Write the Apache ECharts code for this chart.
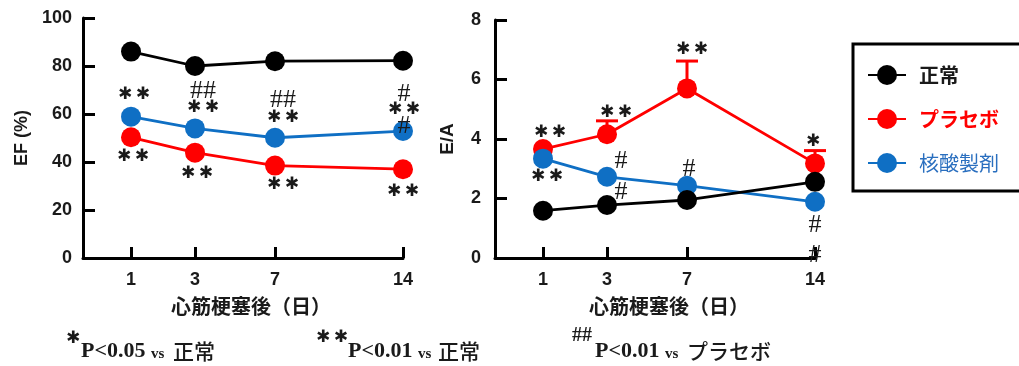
<!DOCTYPE html>
<html><head><meta charset="utf-8">
<script src="https://cdn.jsdelivr.net/npm/echarts@6/dist/echarts.min.js"></script>
<style>html,body{margin:0;padding:0;background:#fff}#c{width:1019px;height:366px}</style>
</head><body><div id="c"></div>
<script>
// ---- data ----
const days = ['1', '3', '7', '14'];
// category slots (blank spacers reproduce the uneven day spacing of the original axis)
const xCategories = ['', '', '', '1', '', '', '', '3', '', '', '', '', '7', '', '', '', '', '', '', '', '14'];
const seriesNames = ['正常', 'プラセボ', '核酸製剤'];

const efNormal  = [86, 80, 82, 82.2];
const efPlacebo = [50.3, 43.9, 38.5, 37];
const efNucleic = [58.9, 54, 50.1, 52.9];

const eaNormal     = [1.59, 1.78, 1.95, 2.56];
const eaPlacebo    = [3.66, 4.16, 5.7, 3.18];
const eaPlaceboErr = [0, 0.45, 0.92, 0.43];
const eaNucleic    = [3.34, 2.73, 2.43, 1.89];

const efSigNucleic = ['**', '##\n**', '##\n**', '#\n**\n#'];
const efSigPlacebo = ['**', '**', '**', '**'];
const eaSigPlacebo = ['**', '**', '**', '*'];
const eaSigNucleic = ['**', '#\n\n#', '#', '#\n#'];

const xAxisName = '心筋梗塞後（日）';

// ---- styling helpers ----
const TXT = '#1a1a1a';
const RED = '#ff0000';
const BLUE = '#0f6fc4';
const BLACK = '#000000';
const STAR = '\u2731';

function makeRich(lh) {
  return {
    s: { fontFamily: 'DejaVu Sans', fontWeight: 'bold', fontSize: 17, color: TXT, lineHeight: lh },
    h: { fontFamily: 'Liberation Serif', fontSize: 26, color: TXT, lineHeight: lh },
    g: { fontSize: 10, lineHeight: lh, color: TXT }
  };
}
function stars(l) { return l.replace(/\*/g, STAR).split('').join('\u2009'); }
function sigText(s) {
  return s.split('\n').map(l => l === '' ? '{g| }' :
    (l.indexOf('*') >= 0 ? '{s|' + stars(l) + '}' : '{h|' + l + '}')).join('\n');
}
// label placement (style): [dx, dy, lineHeight] relative to the marker centre
const efNucleicLab = [[3, -22, 17], [8, -29, 17], [8, -29, 17], [1, -21, 16]];
const efPlaceboLab = [[2, 19, 17], [2, 21, 17], [8, 19, 17], [0, 22, 17]];
const eaPlaceboLab = [[7, -17, 17], [9, -22, 17], [5, -39, 17], [-2, -22, 17]];
const eaNucleicLab = [[4, 18, 17], [14, 0, 15.5], [2, -17, 17], [0, 38, 30]];

function buildData(vals, sig, lab) {
  return days.map((d, i) => {
    const item = { value: [d, vals[i]] };
    if (sig) {
      item.label = {
        show: true, position: 'inside', offset: [lab[i][0], lab[i][1]],
        formatter: sigText(sig[i]), rich: makeRich(lab[i][2]),
        color: TXT, textBorderWidth: 0, align: 'center', verticalAlign: 'middle'
      };
    }
    return item;
  });
}

function lineSeries(name, color, xi, vals, sig, lab) {
  return {
    type: 'line', name, xAxisIndex: xi, yAxisIndex: xi,
    data: buildData(vals, sig, lab),
    symbol: 'circle', symbolSize: 20, showSymbol: true,
    lineStyle: { color, width: 2.8 },
    itemStyle: { color, borderWidth: 0 },
    label: { show: false },
    emphasis: { disabled: true },
    animation: false
  };
}

function xAxisCfg(gi, padLeft) {
  return {
    type: 'category', gridIndex: gi, data: xCategories, boundaryGap: false,
    axisLine: { show: true, lineStyle: { color: BLACK, width: 3 } },
    axisTick: { show: true, inside: true, length: 11, lineStyle: { color: BLACK, width: 3 },
      interval: (i, v) => v !== '' },
    axisLabel: { interval: 0, margin: 13, color: TXT, fontFamily: 'Liberation Sans', fontWeight: 'bold', fontSize: 18 },
    splitLine: { show: false },
    name: xAxisName, nameLocation: 'middle', nameGap: 38,
    nameTextStyle: { fontFamily: 'Noto Sans CJK JP', fontWeight: 'bold', fontSize: 20, color: TXT, padding: [0, 0, 0, padLeft] }
  };
}
function yAxisCfg(gi, max, interval, name, gap, margin, nameSize) {
  return {
    type: 'value', gridIndex: gi, min: 0, max, interval,
    axisLine: { show: true, lineStyle: { color: BLACK, width: 3 } },
    axisTick: { show: true, inside: true, length: 12, lineStyle: { color: BLACK, width: 3 } },
    axisLabel: { margin, color: TXT, fontFamily: 'Liberation Sans', fontWeight: 'bold', fontSize: 18 },
    splitLine: { show: false },
    name, nameLocation: 'middle', nameGap: gap, nameRotate: 90,
    nameTextStyle: { fontFamily: 'Liberation Sans', fontWeight: 'bold', fontSize: nameSize, color: TXT }
  };
}

function footText(x, y, text, font, color, align) {
  return { type: 'text', x, y, silent: true,
    style: { text, font, fill: color || TXT, align: align || 'left', verticalAlign: 'middle' } };
}
const serifB = 'bold 22px "Liberation Serif"';
const serifS = 'bold 15px "Liberation Serif"';
const jpF = '500 21px "Noto Sans CJK JP"';
const starF = 'bold 17px "DejaVu Sans"';

const chart = echarts.init(document.getElementById('c'), null, { renderer: 'canvas' });
chart.setOption({
  animation: false,
  backgroundColor: '#ffffff',
  grid: [
    { left: 83, top: 18, width: 320, height: 240 },
    { left: 495, top: 20, width: 320, height: 238 }
  ],
  xAxis: [xAxisCfg(0, 16), xAxisCfg(1, 28)],
  yAxis: [
    yAxisCfg(0, 100, 20, 'EF (%)', 52, 11, 18),
    yAxisCfg(1, 8, 2, 'E/A', 38, 14, 19)
  ],
  legend: {
    orient: 'vertical', left: 853, top: 44,
    data: [
      { name: seriesNames[0], textStyle: { color: TXT } },
      { name: seriesNames[1], textStyle: { color: RED } },
      { name: seriesNames[2], textStyle: { color: '#2a6fbf', fontWeight: 'normal' } }
    ],
    itemWidth: 38, itemHeight: 25, itemGap: 24,
    padding: [21, 60, 18, 14],
    borderColor: BLACK, borderWidth: 3,
    selectedMode: false,
    textStyle: { fontFamily: 'Noto Sans CJK JP', fontSize: 20, fontWeight: 'bold', padding: [0, 0, 0, 8] }
  },
  series: [
    lineSeries(seriesNames[1], RED, 0, efPlacebo, efSigPlacebo, efPlaceboLab),
    lineSeries(seriesNames[2], BLUE, 0, efNucleic, efSigNucleic, efNucleicLab),
    lineSeries(seriesNames[0], BLACK, 0, efNormal, null, null),
    {
      type: 'custom', name: 'err', xAxisIndex: 1, yAxisIndex: 1,
      data: days.map((d, i) => [d, eaPlacebo[i], eaPlaceboErr[i]]),
      encode: { x: 0, y: 1 },
      renderItem: (params, api) => {
        const e = api.value(2);
        if (!e) return null;
        const x = api.value(0), m = api.value(1);
        const p0 = api.coord([x, m]);
        const p1 = api.coord([x, m + e]);
        const hw = 11;
        return { type: 'group', children: [
          { type: 'line', shape: { x1: p0[0], y1: p0[1], x2: p1[0], y2: p1[1] }, style: { stroke: RED, lineWidth: 3 } },
          { type: 'line', shape: { x1: p1[0] - hw, y1: p1[1], x2: p1[0] + hw, y2: p1[1] }, style: { stroke: RED, lineWidth: 3 } }
        ] };
      },
      silent: true, animation: false
    },
    lineSeries(seriesNames[1], RED, 1, eaPlacebo, eaSigPlacebo, eaPlaceboLab),
    lineSeries(seriesNames[2], BLUE, 1, eaNucleic, eaSigNucleic, eaNucleicLab),
    lineSeries(seriesNames[0], BLACK, 1, eaNormal, null, null)
  ],
  graphic: [
    footText(73, 339, STAR, starF, TXT, 'center'),
    footText(81, 351, 'P<0.05', serifB),
    footText(151, 354, 'vs', serifS),
    footText(173, 351, '正常', jpF),

    footText(332, 338, STAR + '\u2009' + STAR, starF, TXT, 'center'),
    footText(348, 351, 'P<0.01', serifB),
    footText(418, 354, 'vs', serifS),
    footText(438, 351, '正常', jpF),

    footText(572, 336, '##', 'bold 20px "Liberation Serif"'),
    footText(595, 351, 'P<0.01', serifB),
    footText(665, 354, 'vs', serifS),
    footText(687, 351, 'プラセボ', jpF)
  ]
});
</script>
</body></html>
